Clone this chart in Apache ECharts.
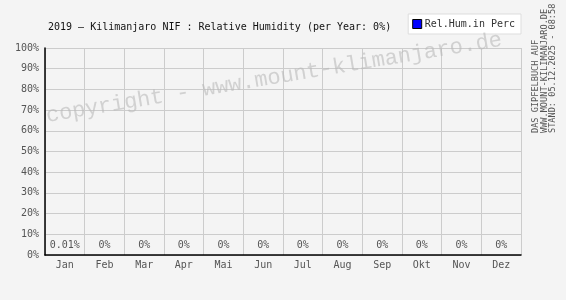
<!DOCTYPE html>
<html>
<head>
<meta charset="utf-8">
<script src="https://cdn.jsdelivr.net/npm/echarts@6/dist/echarts.min.js"></script>
<style>
html,body{margin:0;padding:0;background:#f4f4f4;}
#c{width:566px;height:300px;}
</style>
</head>
<body>
<div id="c"></div>
<script>
const titleText = '2019 \u2013 Kilimanjaro NIF : Relative Humidity (per Year: 0%)';
const seriesName = 'Rel.Hum.in Perc';
const months = ['Jan','Feb','Mar','Apr','Mai','Jun','Jul','Aug','Sep','Okt','Nov','Dez'];
const humidity = [0.01,0,0,0,0,0,0,0,0,0,0,0];
const valueLabels = ['0.01%','0%','0%','0%','0%','0%','0%','0%','0%','0%','0%','0%'];
const watermark = 'copyright - www.mount-klimanjaro.de';
const sideLines = ['DAS GIPFELBUCH AUF','WWW.MOUNT-KILIMANJARO.DE','STAND: 05.12.2025 - 08:58'];

const FONT = 'DejaVu Sans Mono';
const chart = echarts.init(document.getElementById('c'), null, {renderer:'canvas'});
chart.setOption({
  backgroundColor:'#f4f4f4',
  animation:false,
  textStyle:{fontFamily:FONT},
  title:{text:titleText,left:43,top:17,textStyle:{fontFamily:FONT,fontSize:10,fontWeight:'normal',color:'#111'}},
  legend:{
    data:[seriesName],right:45,top:14,
    backgroundColor:'#fff',borderColor:'#ddd',borderWidth:1,padding:[5,6,5,4],
    icon:'rect',itemWidth:9,itemHeight:9,itemGap:3,
    textStyle:{fontFamily:FONT,fontSize:10,color:'#333',padding:[0,0,0,-2]},
    itemStyle:{borderColor:'#000',borderWidth:1}
  },
  grid:{left:45,right:45,top:48,bottom:45,containLabel:false},
  xAxis:{
    type:'category',data:months,boundaryGap:true,
    axisLine:{lineStyle:{color:'#000',width:1.5}},
    axisTick:{show:false},
    axisLabel:{fontFamily:FONT,fontSize:10,color:'#555',margin:5},
    splitLine:{show:true,lineStyle:{color:'#ccc',width:1}}
  },
  yAxis:{
    type:'value',min:0,max:100,interval:10,
    axisLine:{show:true,lineStyle:{color:'#000',width:1.5}},
    axisTick:{show:false},
    axisLabel:{formatter:'{value}%',fontFamily:FONT,fontSize:10,color:'#555',margin:6},
    splitLine:{show:true,lineStyle:{color:'#ccc',width:1}}
  },
  series:[{
    name:seriesName,type:'bar',data:humidity,barWidth:'60%',
    itemStyle:{color:'#0000ff',borderColor:'#000',borderWidth:0},
    label:{show:true,position:'top',distance:5,fontFamily:FONT,fontSize:10,color:'#555',
      formatter:p=>valueLabels[p.dataIndex]}
  }],
  graphic:[
    {type:'text',x:48,y:127,rotation:0.166,z:100,silent:true,
     style:{text:watermark,font:'22px "Liberation Mono"',fill:'rgba(185,185,185,0.6)',textAlign:'left',textVerticalAlign:'bottom'}},
    ...sideLines.map((t,i)=>({type:'text',x:536+i*8.3,y:133,rotation:Math.PI/2,silent:true,
      style:{text:t,font:'8.6px "DejaVu Sans Mono"',fill:'#555',textAlign:'left',textVerticalAlign:'middle'}}))
  ]
});
</script>
</body>
</html>
